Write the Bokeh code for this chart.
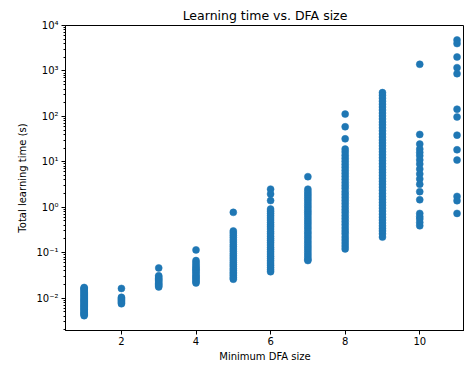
from bokeh.plotting import figure
from bokeh.models import ColumnDataSource, FixedTicker, CustomJSTickFormatter, Range1d
from bokeh.embed import file_html
from bokeh.resources import INLINE

# ---- data ----
dfa_sizes = [1, 2, 3, 4, 5, 6, 7, 8, 9, 10, 11]
times_1 = [0.0041, 0.0043, 0.0045, 0.0047, 0.0049, 0.0052, 0.0055, 0.0057, 0.006, 0.0063,
           0.0066, 0.0069, 0.0072, 0.0076, 0.008, 0.0084, 0.0088, 0.0092, 0.0097, 0.0102,
           0.0108, 0.0114, 0.012, 0.0127, 0.0134, 0.0142, 0.015, 0.0158, 0.0165, 0.0171]
times_2 = [0.0163, 0.0104, 0.0099, 0.0094, 0.0089, 0.0084, 0.0079, 0.0075]
times_3 = [0.046, 0.031, 0.029, 0.027, 0.0255, 0.024, 0.0225, 0.021, 0.0198, 0.0186, 0.0176]
times_4 = [0.115, 0.067, 0.061, 0.055, 0.05, 0.046, 0.043, 0.04, 0.037, 0.034, 0.031,
           0.029, 0.027, 0.025, 0.023, 0.0215]
times_5 = [0.77, 0.30, 0.27, 0.24, 0.215, 0.19, 0.17, 0.15, 0.135, 0.12, 0.107, 0.095,
           0.085, 0.076, 0.068, 0.061, 0.055, 0.05, 0.045, 0.041, 0.037, 0.034, 0.031,
           0.028, 0.026]
times_6 = [2.5, 1.95, 1.4, 0.91, 0.82, 0.73, 0.65, 0.58, 0.52, 0.46, 0.41, 0.37, 0.33,
           0.29, 0.26, 0.23, 0.205, 0.185, 0.165, 0.147, 0.13, 0.117, 0.104, 0.093, 0.083,
           0.074, 0.066, 0.059, 0.053, 0.047, 0.042, 0.038]
times_7 = [4.7, 2.5, 2.2, 1.95, 1.75, 1.55, 1.38, 1.22, 1.08, 0.96, 0.85, 0.76, 0.68, 0.6,
           0.53, 0.47, 0.42, 0.37, 0.33, 0.29, 0.26, 0.23, 0.205, 0.18, 0.16, 0.142, 0.127,
           0.113, 0.1, 0.089, 0.079, 0.071, 0.067]
times_8 = [112, 59, 32, 19, 16.5, 14, 12, 10.3, 8.8, 7.6, 6.5, 5.6, 4.8, 4.1, 3.5, 3.0, 2.6,
           2.2, 1.9, 1.63, 1.4, 1.2, 1.03, 0.88, 0.76, 0.65, 0.56, 0.48, 0.41, 0.35, 0.3,
           0.26, 0.22, 0.19, 0.163, 0.14, 0.121]
times_9 = [333, 290, 250, 215, 185, 160, 138, 118, 102, 88, 75, 65, 56, 48, 41, 35, 30, 26,
           22.5, 19.3, 16.6, 14.3, 12.3, 10.6, 9.1, 7.8, 6.7, 5.8, 5.0, 4.3, 3.7, 3.2, 2.75,
           2.35, 2.0, 1.72, 1.48, 1.27, 1.1, 0.95, 0.82, 0.7, 0.6, 0.52, 0.45, 0.39, 0.34,
           0.3, 0.26, 0.22]
times_10 = [1400, 40, 24.5, 19, 16, 13.5, 11, 8.9, 6.9, 5.4, 4.2, 3.2, 2.2, 1.46, 0.73,
            0.62, 0.55, 0.46, 0.39]
times_11 = [4800, 4000, 2030, 1180, 870, 144, 97, 38.6, 18.4, 10.9, 1.73, 1.39, 0.73]

x_ticks = [2, 4, 6, 8, 10]
y_tick_values = [1e-2, 1e-1, 1e0, 1e1, 1e2, 1e3, 1e4]
y_tick_labels = ["10\u207b\u00b2", "10\u207b\u00b9", "10\u2070", "10\u00b9", "10\u00b2",
                 "10\u00b3", "10\u2074"]

title_text = "Learning time vs. DFA size"
x_label = "Minimum DFA size"
y_label = "Total learning time (s)"

# ---- build source ----
all_times = [times_1, times_2, times_3, times_4, times_5, times_6, times_7, times_8,
             times_9, times_10, times_11]
xs, ys = [], []
for size, col in zip(dfa_sizes, all_times):
    xs.extend([size] * len(col))
    ys.extend(col)
source = ColumnDataSource(data=dict(x=xs, y=ys))

FONT = "DejaVu Sans"
p = figure(width=464, height=364, y_axis_type="log",
           x_range=Range1d(0.5, 11.2), y_range=Range1d(10 ** -2.714, 1e4),
           output_backend="svg", toolbar_location=None,
           min_border_left=65, min_border_right=0, min_border_top=25,
           min_border_bottom=34)

p.scatter("x", "y", source=source, size=7, fill_color="#1f77b4",
          line_color="#1f77b4", line_width=0.5)

p.title.text = title_text
p.title.text_font = FONT
p.title.text_font_size = "12.5px"
p.title.text_font_style = "normal"
p.title.align = "center"
p.title.text_color = "black"
p.title.standoff = 5

p.xgrid.visible = False
p.ygrid.visible = False
p.outline_line_color = "black"
p.outline_line_width = 1

minor = [k * 10.0 ** n for n in range(-3, 4) for k in range(2, 10)]
p.yaxis.ticker = FixedTicker(ticks=y_tick_values, minor_ticks=minor)
p.yaxis.formatter = CustomJSTickFormatter(
    args=dict(vals=y_tick_values, labs=y_tick_labels),
    code="""
    for (let i = 0; i < vals.length; i++) {
        if (Math.abs(Math.log10(tick) - Math.log10(vals[i])) < 1e-6) return labs[i];
    }
    return "";
    """)
p.xaxis.ticker = FixedTicker(ticks=x_ticks, minor_ticks=[])

for ax in (p.xaxis, p.yaxis):
    ax.axis_line_color = "black"
    ax.axis_line_width = 1
    ax.major_tick_line_color = "black"
    ax.minor_tick_line_color = "black"
    ax.major_tick_in = 0
    ax.major_tick_out = 4
    ax.minor_tick_in = 0
    ax.minor_tick_out = 2
    ax.major_label_text_font = FONT
    ax.major_label_text_font_size = "10px"
    ax.major_label_text_color = "black"
    ax.axis_label_text_font = FONT
    ax.axis_label_text_font_size = "10px"
    ax.axis_label_text_font_style = "normal"
    ax.axis_label_text_color = "black"
    ax.major_label_standoff = 2
    ax.axis_label_standoff = 3

p.yaxis.major_label_standoff = 3
p.yaxis.axis_label_standoff = 5

p.xaxis.axis_label = x_label
p.yaxis.axis_label = y_label

open("out.html", "w").write(file_html(p, INLINE))
